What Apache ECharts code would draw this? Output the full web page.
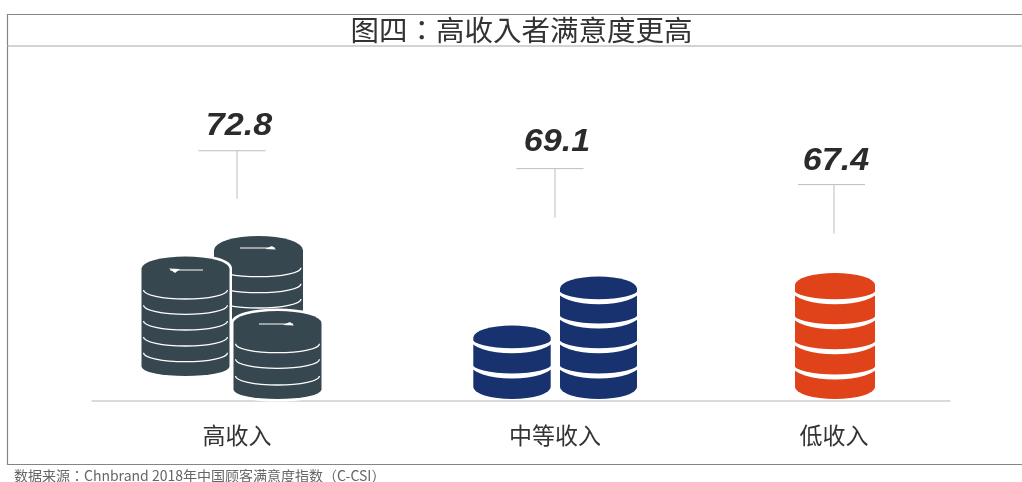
<!DOCTYPE html>
<html><head><meta charset="utf-8">
<style>html,body{margin:0;padding:0;background:#fff}#c{width:1022px;height:482px}</style>
<script src="https://cdn.jsdelivr.net/npm/echarts@6/dist/echarts.min.js"></script>
</head><body><div id="c"></div>
<script>
const titleText = '图四：高收入者满意度更高';
const sourceText = '数据来源：Chnbrand 2018年中国顾客满意度指数（C-CSI）';
const categories = ['高收入', '中等收入', '低收入'];
const scores = [72.8, 69.1, 67.4];

// Layout of each category's group relative to its axis band
const bandShift = [2, 34, 27];
const labelLift = [-2, 6, -2];
const ruleGap = [24, 26, 23];
const ruleDrop = [48, 49, 49];
const ruleLeft = [-38.5, -38.5, -36];
const coinColor = ['#37474f', '#17326e', '#e0431a'];

// Pictogram geometry: offsets from the category anchor, heights above the baseline
const pictograms = [
  [
    {cx: 21.5, rx: 44.5, top: 151, ry: 14, bottom: 90, base: 14, arcs: [124.3, 108.3, 93], thin: true, tick: {h: 153, from: 3, to: 38, head: 'right'}},
    {cx: -51.5, rx: 44, top: 132.5, ry: 12, bottom: 34.5, base: 9.5, arcs: [102, 86.7, 71, 55, 39.3], thin: true, halo: true, tick: {h: 131, from: -67, to: -34, head: 'left'}},
    {cx: 40.5, rx: 44, top: 78, ry: 12, bottom: 11.5, base: 9.5, arcs: [48.3, 32.7, 16], thin: true, halo: true, tick: {h: 77, from: 22, to: 56, head: 'right'}}
  ],
  [
    {cx: -43, rx: 38.7, top: 63.5, ry: 12, bottom: 14, base: 12, arcs: [50.3, 25]},
    {cx: 43.5, rx: 38.5, top: 112.5, ry: 12, bottom: 14, base: 12, arcs: [99.3, 75, 50.3, 25]}
  ],
  [
    {cx: 1, rx: 40, top: 116, ry: 12, bottom: 14, base: 12, arcs: [99.3, 74.3, 49.3, 24]}
  ]
];

function cylinder(cx, rx, yT, ryT, yB, ryB) {
  return `M${cx - rx} ${yT}A${rx} ${ryT} 0 0 1 ${cx + rx} ${yT}L${cx + rx} ${yB}A${rx} ${ryB} 0 0 1 ${cx - rx} ${yB}Z`;
}

function drawStack(s, ax, y0, color) {
  const out = [];
  const cx = ax + s.cx, yT = y0 - s.top, yB = y0 - s.bottom;
  const body = cylinder(cx, s.rx, yT, s.ry, yB, s.base);
  if (s.halo) out.push({type: 'path', shape: {pathData: body}, style: {fill: '#fff', stroke: '#fff', lineWidth: 5}});
  out.push({type: 'path', shape: {pathData: body}, style: {fill: color}});
  s.arcs.forEach(h => {
    if (s.thin) {
      const yEdge = y0 - h - 9;
      out.push({type: 'path',
        shape: {pathData: `M${cx - s.rx + 2} ${yEdge}A${s.rx - 2} 9 0 0 0 ${cx + s.rx - 2} ${yEdge}`},
        style: {fill: 'none', stroke: '#fff', lineWidth: 1.3}});
    } else {
      // white crescent between two coins, thinning toward the edge
      const yEdge = y0 - h - 12;
      const l = cx - s.rx - 2, r = cx + s.rx + 2, a = s.rx + 2;
      out.push({type: 'path',
        shape: {pathData: `M${l} ${yEdge}A${a} 13.5 0 0 0 ${r} ${yEdge}A${a} 10.5 0 0 1 ${l} ${yEdge}Z`},
        style: {fill: '#fff', stroke: '#fff', lineWidth: 2}});
    }
  });
  if (s.tick) {
    const y = y0 - s.tick.h, a = ax + s.tick.from, b = ax + s.tick.to;
    out.push({type: 'line', shape: {x1: a, y1: y, x2: b, y2: y}, style: {stroke: '#fff', lineWidth: 1.2}});
    const t = s.tick.head === 'right'
      ? `M${b - 10} ${y + 1}L${b - 3} ${y - 2}L${b + 1} ${y + 1.5}Z`
      : `M${a - 1} ${y - 1.5}L${a + 10} ${y - 1}L${a + 5} ${y + 3}Z`;
    out.push({type: 'path', shape: {pathData: t}, style: {fill: '#fff'}});
  }
  return out;
}

function renderItem(params, api) {
  const i = api.value(0);
  const pt = api.coord([i, api.value(1)]);
  const base = api.coord([i, 30]);
  const ax = pt[0] + bandShift[i];
  const labelY = pt[1] - labelLift[i];
  const ruleY = labelY + ruleGap[i];
  const children = [];
  pictograms[i].forEach(s => children.push(...drawStack(s, ax, base[1], coinColor[i])));
  children.push(
    {type: 'line', shape: {x1: ax + ruleLeft[i], y1: ruleY, x2: ax + ruleLeft[i] + 67, y2: ruleY}, style: {stroke: '#bdbdbd', lineWidth: 1}},
    {type: 'line', shape: {x1: ax, y1: ruleY, x2: ax, y2: ruleY + ruleDrop[i]}, style: {stroke: '#bdbdbd', lineWidth: 1}},
    {type: 'text', x: ax + 2, y: labelY, scaleX: 1.1, style: {text: api.value(1).toFixed(1), x: 0, y: 0, align: 'center', verticalAlign: 'middle',
      fill: '#2b2b2b', font: 'italic bold 31px "Liberation Sans", Arial, sans-serif'}}
  );
  return {type: 'group', children};
}

const chart = echarts.init(document.getElementById('c'), null, {renderer: 'canvas'});
const tickFont = {fontSize: 23, color: '#333', fontFamily: '"Noto Sans CJK SC"'};
chart.setOption({
  animation: false,
  backgroundColor: '#fff',
  grid: {left: 92, right: 72, top: 46, bottom: 81},
  xAxis: {
    type: 'category', data: categories,
    axisLine: {lineStyle: {color: '#cfcfcf', width: 1.5}},
    axisTick: {show: false},
    axisLabel: {
      margin: 23,
      formatter: (v, i) => `{r${i}|${v}}`,
      rich: {
        r0: {...tickFont, padding: [0, 0, 0, 4]},
        r1: {...tickFont, padding: [0, 0, 0, 68]},
        r2: {...tickFont, padding: [0, 0, 0, 54]}
      }
    }
  },
  yAxis: {type: 'value', min: 30, max: 85, show: false},
  series: [{
    type: 'custom', clip: false, renderItem,
    encode: {x: 0, y: 1},
    data: scores.map((v, i) => [i, v])
  }],
  graphic: [
    {type: 'polyline', silent: true, shape: {points: [[1022, 14.5], [7.5, 14.5], [7.5, 464.5], [1022, 464.5]]}, style: {fill: 'none', stroke: '#858585', lineWidth: 1.2}},
    {type: 'line', silent: true, shape: {x1: 7, y1: 46, x2: 1022, y2: 46}, style: {stroke: '#a8a8a8', lineWidth: 1.2}},
    {type: 'text', silent: true, x: 521.5, y: 30, style: {text: titleText, align: 'center', verticalAlign: 'middle', fill: '#333', font: '28.5px "Noto Sans CJK TC"'}},
    {type: 'text', silent: true, x: 14, y: 476, style: {text: sourceText, align: 'left', verticalAlign: 'middle', fill: '#666', font: '14px "Noto Sans CJK TC"'}}
  ]
});
</script></body></html>
